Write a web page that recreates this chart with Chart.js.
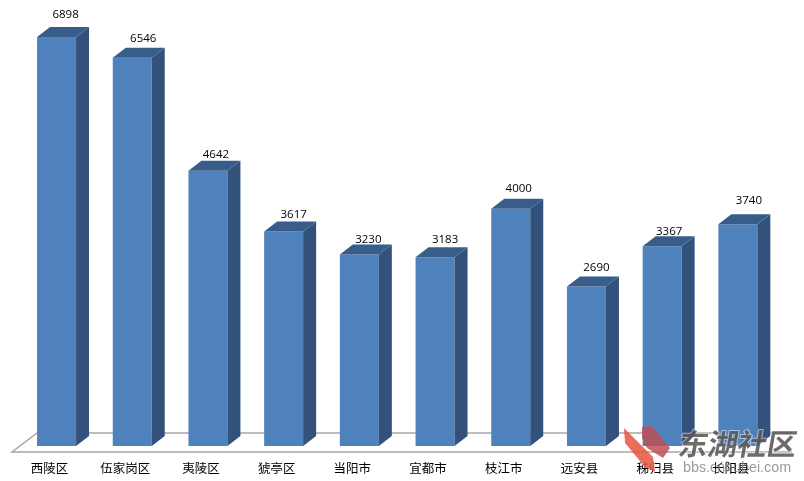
<!DOCTYPE html>
<html>
<head>
<meta charset="utf-8">
<style>
  html, body { margin: 0; padding: 0; background: #fff; }
  #wrap { width: 804px; height: 481px; position: relative; }
</style>
</head>
<body>
<div id="wrap"><canvas id="chart" width="804" height="481"></canvas></div>
<script src="https://cdn.jsdelivr.net/npm/chart.js@4/dist/chart.umd.min.js"></script>
<script>
const categories = ["西陵区", "伍家岗区", "夷陵区", "猇亭区", "当阳市", "宜都市", "枝江市", "远安县", "秭归县", "长阳县"];
const values = [6898, 6546, 4642, 3617, 3230, 3183, 4000, 2690, 3367, 3740];
const yMax = 7521;

// the reference's value labels were placed by hand, so each has its own lift
const labelLift = [22, 19, 16, 17, 15, 18, 20, 19, 15, 23];
const labelShift = [9, 11, 8, 10, 9, 10, 8, 10, 7, 11];

const depthX = 13;
const depthY = 10;
const frontColor = "#4f81bd";
const sideColor = "#32527c";
const topColor = "#385d8a";
const floorColor = "#a6a6a6";

// floor of the 3d box, behind the bars
const floorPlugin = {
  id: "floor",
  beforeDatasetsDraw(chart) {
    const { ctx, chartArea } = chart;
    const y = chartArea.bottom;
    ctx.save();
    ctx.strokeStyle = floorColor;
    ctx.lineWidth = 1.5;
    ctx.beginPath();
    ctx.moveTo(792, y + 6);
    ctx.lineTo(12, y + 6);
    ctx.lineTo(37, y - 13);
    ctx.lineTo(792, y - 13);
    ctx.stroke();
    ctx.restore();
  }
};

// side and top faces, then the number over each bar
const boxPlugin = {
  id: "box",
  afterDatasetsDraw(chart) {
    const { ctx } = chart;
    const bars = chart.getDatasetMeta(0).data;
    ctx.save();
    bars.forEach((bar, i) => {
      const right = bar.x + bar.width / 2;
      const left = bar.x - bar.width / 2;
      ctx.fillStyle = sideColor;
      ctx.beginPath();
      ctx.moveTo(right, bar.y);
      ctx.lineTo(right + depthX, bar.y - depthY);
      ctx.lineTo(right + depthX, bar.base - depthY);
      ctx.lineTo(right, bar.base);
      ctx.closePath();
      ctx.fill();
      ctx.fillStyle = topColor;
      ctx.beginPath();
      ctx.moveTo(left, bar.y);
      ctx.lineTo(left + depthX, bar.y - depthY);
      ctx.lineTo(right + depthX, bar.y - depthY);
      ctx.lineTo(right, bar.y);
      ctx.closePath();
      ctx.fill();
      ctx.fillStyle = "#000";
      ctx.font = "11.5px 'Open Sans'";
      ctx.textAlign = "center";
      ctx.textBaseline = "middle";
      ctx.fillText(values[i], bar.x + labelShift[i], bar.y - labelLift[i]);
    });
    ctx.restore();
  }
};

// site watermark in the lower right corner
const watermarkPlugin = {
  id: "watermark",
  afterDraw(chart) {
    const { ctx } = chart;
    ctx.save();
    ctx.fillStyle = "rgba(232, 84, 62, 0.85)";
    ctx.beginPath();
    ctx.moveTo(624, 428);
    ctx.lineTo(653, 457);
    ctx.lineTo(655, 472);
    ctx.lineTo(645, 467);
    ctx.lineTo(625, 443);
    ctx.closePath();
    ctx.fill();
    ctx.fillStyle = "rgba(190, 80, 85, 0.85)";
    ctx.beginPath();
    ctx.moveTo(642, 427);
    ctx.lineTo(652, 426);
    ctx.lineTo(670, 448);
    ctx.lineTo(663, 458);
    ctx.lineTo(647, 448);
    ctx.lineTo(642, 438);
    ctx.closePath();
    ctx.fill();
    ctx.textBaseline = "middle";
    ctx.textAlign = "left";
    ctx.save();
    ctx.translate(676, 444);
    ctx.transform(1, 0, -0.18, 1, 0, 0);
    ctx.strokeStyle = "rgba(255, 255, 255, 0.5)";
    ctx.lineWidth = 2;
    ctx.fillStyle = "rgba(88, 88, 88, 0.88)";
    ctx.font = "bold 29.5px 'Noto Sans CJK SC'";
    ctx.strokeText("东湖社区", 3, 0);
    ctx.fillText("东湖社区", 3, 0);
    ctx.restore();
    ctx.fillStyle = "rgba(120, 120, 120, 0.75)";
    ctx.font = "14.3px 'Liberation Sans'";
    ctx.fillText("bbs.cnhubei.com", 683, 468);
    ctx.restore();
  }
};

new Chart(document.getElementById("chart"), {
  type: "bar",
  data: {
    labels: categories,
    datasets: [{
      data: values,
      backgroundColor: frontColor,
      borderWidth: 0,
      barPercentage: 0.515,
      categoryPercentage: 1
    }]
  },
  plugins: [floorPlugin, boxPlugin, watermarkPlugin],
  options: {
    responsive: false,
    animation: false,
    layout: { padding: { left: 18.7, right: 28.3, top: 0, bottom: 0 } },
    plugins: { legend: { display: false }, tooltip: { enabled: false } },
    scales: {
      x: {
        grid: { display: false },
        border: { display: false },
        afterFit(scale) { scale.height = 35; },
        ticks: {
          color: "#000",
          padding: 7,
          labelOffset: -7,
          maxRotation: 0,
          autoSkip: false,
          font: { family: "'Noto Sans CJK SC'", size: 12.5 }
        }
      },
      y: { display: false, min: 0, max: yMax }
    }
  }
});
</script>
</body>
</html>
